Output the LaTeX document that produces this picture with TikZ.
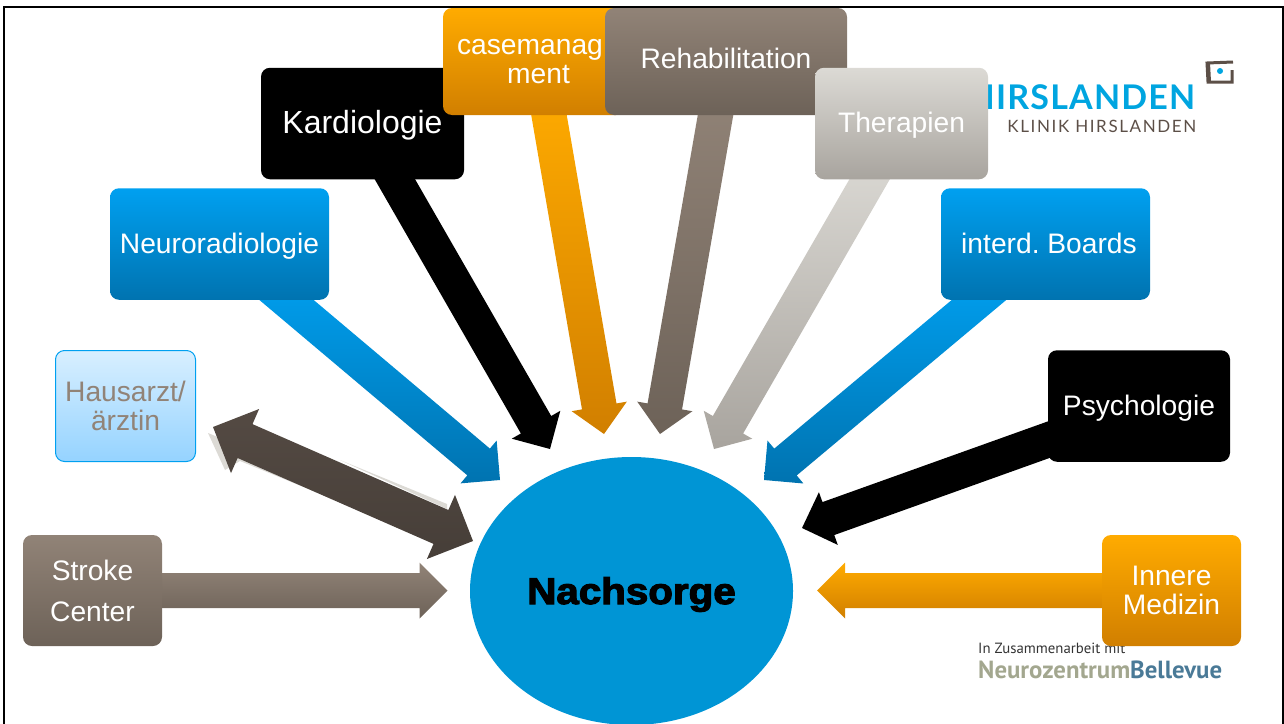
\documentclass[tikz,border=0pt]{standalone}
\usepackage{fontspec}
\setmainfont{Liberation Sans}
\newfontfamily\heavyfont[FakeBold=3]{Liberation Sans Bold}
\newfontfamily\logofont{Lato}
\newfontfamily\partnerfont{PT Sans}
\usetikzlibrary{calc,backgrounds,shapes.geometric}
\definecolor{bluetop}{HTML}{00A0F0}
\definecolor{bluebot}{HTML}{0073B0}
\definecolor{orangetop}{HTML}{FFAB00}
\definecolor{orangebot}{HTML}{D17F00}
\definecolor{browntop}{HTML}{918377}
\definecolor{brownbot}{HTML}{6D6258}
\definecolor{greytop}{HTML}{DCDAD5}
\definecolor{greybot}{HTML}{A8A49E}
\definecolor{darktop}{HTML}{544A43}
\definecolor{darkbot}{HTML}{463E38}
\definecolor{lighttop}{HTML}{D8EFFF}
\definecolor{lightbot}{HTML}{95D3FF}
\definecolor{ovalblue}{HTML}{0095D5}
\definecolor{logoblue}{HTML}{00A5E0}
\definecolor{logobrown}{HTML}{5C4F47}
\definecolor{nzgrey}{HTML}{A3A78F}
\definecolor{nzblue}{HTML}{4A7A97}
\tikzset{
  boxbase/.style={rounded corners=9pt,minimum height=111.5pt,inner sep=0pt,align=center,text=white,
    font=\fontsize{28.2}{29}\selectfont},
  bluebox/.style={boxbase,top color=bluetop,bottom color=bluebot},
  orangebox/.style={boxbase,top color=orangetop,bottom color=orangebot},
  brownbox/.style={boxbase,top color=browntop,bottom color=brownbot},
  greybox/.style={boxbase,top color=greytop,bottom color=greybot},
  blackbox/.style={boxbase,fill=black},
  lightbox/.style={boxbase,top color=lighttop,bottom color=lightbot,draw=bluetop,line width=1pt,text=browntop},
  bluearrow/.style={top color=bluetop,bottom color=bluebot},
  orangearrow/.style={top color=orangetop,bottom color=orangebot},
  brownarrow/.style={top color=browntop,bottom color=brownbot},
  greyarrow/.style={top color=greytop,bottom color=greybot},
  blackarrow/.style={fill=black},
  darkarrow/.style={top color=darktop,bottom color=darkbot}
}
% text set at a fixed distance from the box centre
\newcommand{\low}[2]{\raisebox{-#1pt}[0pt][0pt]{#2}}
\begin{document}
\begin{tikzpicture}[x=1pt,y=-1pt]
% block arrow: \flow{style}{from}{tip}
\newcommand{\flow}[3]{
  \coordinate (s) at #2; \coordinate (t) at #3;
  \coordinate (a) at ($(s)!-25pt!(t)$);
  \coordinate (b) at ($(t)!28pt!(s)$);
  \path[#1] ($(a)!17.5pt!90:(t)$) -- ($(b)!17.5pt!90:(t)$) -- ($(b)!28pt!90:(t)$) -- (t)
    -- ($(b)!28pt!-90:(t)$) -- ($(b)!17.5pt!-90:(t)$) -- ($(a)!17.5pt!-90:(t)$) -- cycle;}
\useasboundingbox (0,0) rectangle (1284,723);
% ---------- logos ----------
\node (hirslanden) [anchor=east,inner sep=0pt,text=logoblue,font=\logofont\bfseries\addfontfeature{LetterSpace=3.5}\fontsize{34}{34}\selectfont] at (1195.5,97) {HIRSLANDEN};
\node (klinik) [anchor=east,inner sep=0pt,text=logobrown,font=\logofont\addfontfeature{LetterSpace=9.5}\fontsize{17}{17}\selectfont] at (1196.5,126) {KLINIK HIRSLANDEN};
\draw[logobrown,line width=3pt] (1233,62) -- (1207,63) -- (1208,82) -- (1232,82) -- (1232,70);
\draw[logobrown,line width=2pt] (1209,63) -- (1210,82);
\fill[logoblue] (1220,71) circle (3pt);
\node (zusammen) [anchor=west,inner sep=0pt,text=black!80,font=\partnerfont\fontsize{14.8}{15}\selectfont] at (978,648) {In Zusammenarbeit mit};
\node (neurozentrum) [anchor=west,inner sep=0pt,font=\partnerfont\bfseries\fontsize{24.8}{25}\selectfont] at (978,670) {\textcolor{nzgrey}{Neurozentrum}\textcolor{nzblue}{Bellevue}};
% ---------- centre ----------
\node (nachsorge) [ellipse,minimum width=323pt,minimum height=268pt,inner sep=0pt,fill=ovalblue,
  font=\heavyfont\fontsize{37}{37}\selectfont] at (631.5,591) {\low{13}{\scalebox{1.09}[1]{Nachsorge}}};
% ---------- boxes ----------
\node (kardio) [blackbox,minimum width=203pt,font=\fontsize{32}{32}\selectfont] at (362.5,123.5) {\low{10.2}{Kardiologie}};
\node (neuro) [bluebox,minimum width=219pt] at (219.5,244) {\low{9.3}{Neuroradiologie}};
\node (case) [orangebox,minimum width=182pt,minimum height=107pt,text width=182pt] at (534,61.5) {casemanag\hspace*{8pt}\mbox{}\\\hspace*{9pt}ment};
\node (reha) [brownbox,minimum width=242pt,minimum height=107pt] at (726,61.5) {\low{6.8}{Rehabilitation}};
\node (therapien) [greybox,minimum width=173pt] at (901.5,123.5) {\low{9.3}{Therapien}};
\node (boards) [bluebox,minimum width=209pt] at (1045.5,244) {\hspace*{7pt}\low{9.3}{interd.\ Boards}};
\node (psycho) [blackbox,minimum width=182pt] at (1139,406) {\low{9.3}{Psychologie}};
\node (innere) [orangebox,minimum width=139pt,minimum height=111pt] at (1171.5,590.5) {Innere\\Medizin};
\node (stroke) [brownbox,minimum width=139pt,minimum height=111pt] at (92.5,590.5) {Stroke\\[12pt]\mbox{}Center};
\node (hausarzt) [lightbox,minimum width=140pt,minimum height=111pt] at (125.5,406) {Hausarzt/\\ärztin};
% ---------- arrows ----------
\begin{pgfonlayer}{background}
\flow{bluearrow}{($(neuro.south)+(67,0)$)}{(500,480)}
\flow{blackarrow}{($(kardio.south)+(32.5,0)$)}{(550,449)}
\flow{orangearrow}{($(case.south)+(15,0)$)}{(604,434)}
\flow{brownarrow}{($(reha.south)+(-10.5,0)$)}{(660,434)}
\flow{greyarrow}{($(therapien.south)+(-32,0)$)}{(714,449)}
\flow{bluearrow}{($(boards.south)+(-66.5,0)$)}{(764,480)}
\flow{blackarrow}{($(psycho.west)+(0,34)$)}{(802,528)}
\flow{orangearrow}{(innere.west)}{(817,590.5)}
\flow{brownarrow}{(stroke.east)}{(447.5,590.5)}
% Hausarzt double arrow with its pale rest behind
\coordinate (hausarzttip) at (213,427);
\coordinate (nachsorgetip) at (473,541);
\fill[greytop] (208,433) -- (225,470) -- (240,461) -- (335,500) -- (300,480) -- (225,440) -- cycle;
\fill[greytop] (340,460) -- (447,509) -- (447,504) -- cycle;
\coordinate (hb) at ($(hausarzttip)!35pt!(nachsorgetip)$);
\coordinate (nb) at ($(nachsorgetip)!35pt!(hausarzttip)$);
\path[darkarrow] (hausarzttip) -- ($(hb)!35pt!90:(nachsorgetip)$) -- ($(hb)!18.5pt!90:(nachsorgetip)$)
  -- ($(nb)!18.5pt!-90:(hausarzttip)$) -- ($(nb)!35pt!-90:(hausarzttip)$) -- (nachsorgetip)
  -- ($(nb)!35pt!90:(hausarzttip)$) -- ($(nb)!18.5pt!90:(hausarzttip)$)
  -- ($(hb)!18.5pt!-90:(nachsorgetip)$) -- ($(hb)!35pt!-90:(nachsorgetip)$) -- cycle;
\end{pgfonlayer}
% ---------- frame ----------
\draw[black,line width=2pt] (4,730) -- (4,7) -- (1283,7) -- (1283,730);
\end{tikzpicture}
\end{document}
